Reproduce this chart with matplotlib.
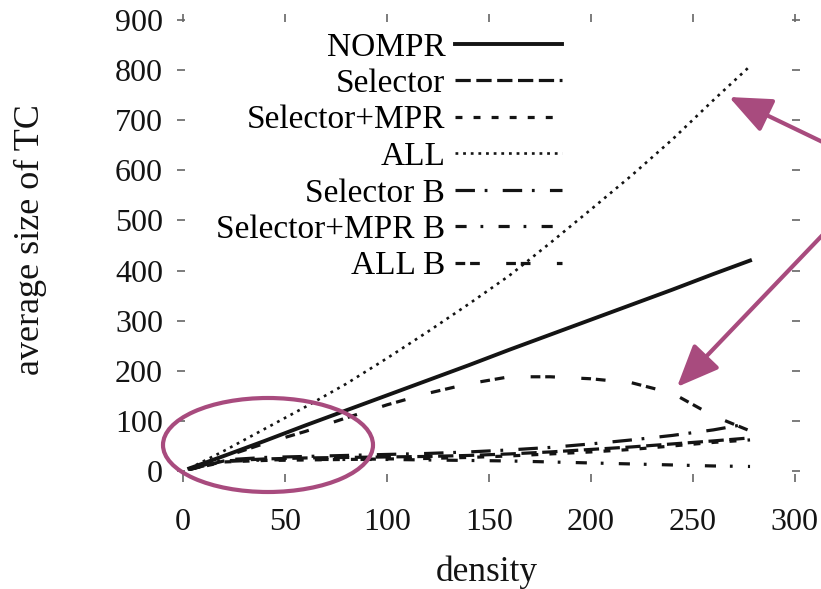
import matplotlib
matplotlib.use("Agg")
import matplotlib.pyplot as plt
from matplotlib.patches import Ellipse, FancyArrowPatch, ArrowStyle

# ── Data ─────────────────────────────────────────────────────────────────────
density = [3, 20, 40, 60, 80, 100, 120, 140, 160, 180, 200, 220, 240, 260, 278]

nompr        = [5, 30, 60, 91, 121, 151, 181, 211, 242, 272, 302, 332, 362, 393, 420]
selector     = [3, 20, 24, 26, 27, 28, 29, 31, 34, 38, 43, 48, 54, 60, 66]
selector_mpr = [3, 18, 21, 22, 23, 24, 25, 27, 30, 34, 38, 43, 50, 57, 62]
all_tc       = [5, 40, 84, 128, 174, 225, 278, 333, 390, 455, 522, 590, 662, 740, 808]
selector_b   = [4, 22, 27, 29, 31, 33, 35, 38, 42, 47, 54, 62, 71, 82, 95]
selmpr_b     = [3, 19, 22, 23, 23, 23, 22, 21, 20, 18, 16, 14, 12, 10, 9]
all_b        = [4, 28, 55, 79, 106, 132, 155, 174, 188, 188, 184, 176, 155, 110, 80]

x_ticks = [0, 50, 100, 150, 200, 250, 300]
y_ticks = [0, 100, 200, 300, 400, 500, 600, 700, 800, 900]

# ── Style ────────────────────────────────────────────────────────────────────
W, H = 821, 589
INK = "#141414"
TICK = "#666666"
PLUM = "#A84B7E"
FS = 24

plt.rcParams["font.family"] = ["Liberation Serif", "DejaVu Serif"]
plt.rcParams["lines.scale_dashes"] = False


def px(x, y):
    """pixel position (from top-left) -> figure fraction"""
    return x / W, 1 - y / H


fig = plt.figure(figsize=(W / 100, H / 100), dpi=100, facecolor="white")
ax = fig.add_axes([177 / W, 1 - 482 / H, (800 - 177) / W, (482 - 14) / H])

series = [
    ("NOMPR",          nompr,        dict(lw=2.8, ls="-")),
    ("Selector",       selector,     dict(lw=2.3, dashes=(11, 4))),
    ("Selector+MPR",   selector_mpr, dict(lw=2.3, dashes=(5, 8))),
    ("ALL",            all_tc,       dict(lw=1.9, dashes=(2, 3.5))),
    ("Selector B",     selector_b,   dict(lw=2.3, dashes=(14, 7, 2, 11))),
    ("Selector+MPR B", selmpr_b,     dict(lw=2.3, dashes=(8, 10, 2, 11))),
    ("ALL B",          all_b,        dict(lw=2.3, dashes=(7, 3.5, 7, 19))),
]
for name, ys, kw in series:
    ax.plot(density, ys, color=INK, label=name, **kw)

ax.set_xlim(-3, 302.5)
ax.set_ylim(-22, 912)
ax.set_xticks(x_ticks)
ax.set_yticks(y_ticks)
for s in ax.spines.values():
    s.set_visible(False)
ax.tick_params(axis="both", direction="in", length=6, width=1.2, color=TICK,
               labelsize=FS - 1, labelcolor=INK)
ax.tick_params(axis="x", top=True, pad=19)
ax.tick_params(axis="y", right=True, pad=10)

fig.text(*px(487, 572), "density", fontsize=FS + 1.5, color=INK,
         ha="center", va="center")
fig.text(*px(30, 240), "average size of TC", fontsize=FS + 2, color=INK,
         ha="center", va="center", rotation=90)

leg = ax.legend(loc="upper right", bbox_to_anchor=px(562, 32),
                bbox_transform=fig.transFigure, frameon=False,
                markerfirst=False, fontsize=FS, handlelength=3.2,
                handletextpad=0.3, labelspacing=0.18, borderpad=0,
                borderaxespad=0)

# ── Annotations (ellipse + arrows) ───────────────────────────────────────────
ell = Ellipse(px(268, 445), 210 / W, 94 / H, transform=fig.transFigure,
              fill=False, edgecolor=PLUM, lw=3, clip_on=False)
fig.add_artist(ell)

head = ArrowStyle("-|>", head_length=1.3, head_width=0.55)
for tail, tip in [((835, 148), (729, 97)), ((835, 222), (677, 387))]:
    arr = FancyArrowPatch(px(*tail), px(*tip), transform=fig.transFigure,
                          arrowstyle=head, mutation_scale=20, color=PLUM,
                          lw=3, shrinkA=0, shrinkB=0, clip_on=False)
    fig.add_artist(arr)

plt.savefig("out.png", dpi=100)
